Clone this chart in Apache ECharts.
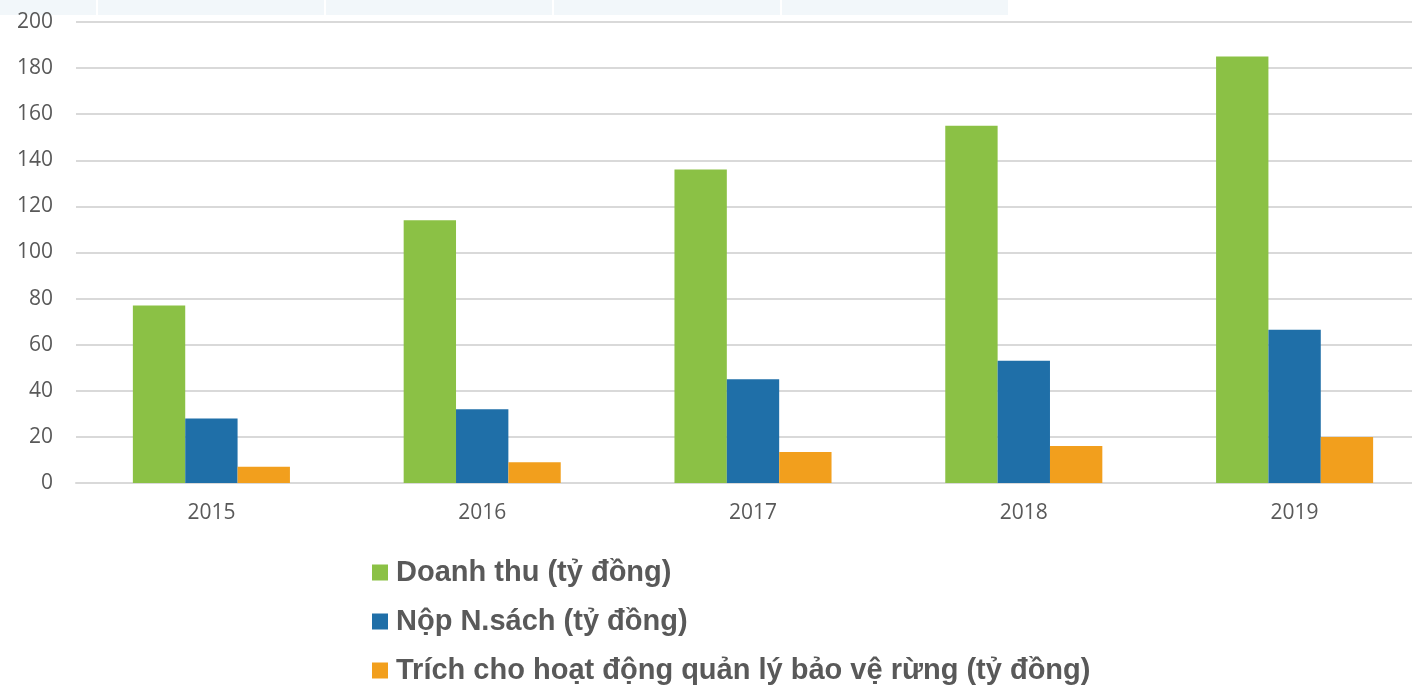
<!DOCTYPE html>
<html><head><meta charset="utf-8">
<script src="https://cdn.jsdelivr.net/npm/echarts@6/dist/echarts.min.js"></script>
<style>html,body{margin:0;padding:0;background:#fff}#c{width:1412px;height:687px}</style>
</head><body><div id="c"></div>
<script>
const categories = ['2015','2016','2017','2018','2019'];
const seriesNames = ['Doanh thu (tỷ đồng)','Nộp N.sách (tỷ đồng)','Trích cho hoạt động quản lý bảo vệ rừng (tỷ đồng)'];
const doanhThu = [77, 114, 136, 155, 185];
const nopNganSach = [28, 32, 45, 53, 66.5];
const trich = [7, 9, 13.5, 16, 20];
const colors = ['#8BC145', '#1F6FA8', '#F29F1D'];

const chart = echarts.init(document.getElementById('c'));
chart.setOption({
  animation: false,
  backgroundColor: '#fff',
  graphic: [
    {type:'rect', left:0, top:0, shape:{width:1008, height:15}, style:{fill:'#F2F7FA'}, z:-1},
    {type:'rect', left:96, top:0, shape:{width:2, height:15}, style:{fill:'#fff'}, z:-1},
    {type:'rect', left:324, top:0, shape:{width:2, height:15}, style:{fill:'#fff'}, z:-1},
    {type:'rect', left:552, top:0, shape:{width:2, height:15}, style:{fill:'#fff'}, z:-1},
    {type:'rect', left:780, top:0, shape:{width:2, height:15}, style:{fill:'#fff'}, z:-1}
  ],
  grid: {left: 76, width: 1354, top: 22, bottom: 204, containLabel: false, outerBoundsMode: 'none'},
  legend: {
    orient: 'vertical', left: 367, top: 553, height: 134, itemGap: 20,
    itemWidth: 16, itemHeight: 16, icon: 'rect',
    textStyle: {fontFamily: 'Liberation Sans, Arial, sans-serif', fontWeight: 'bold', fontSize: 29, color: '#595959', padding:[0,0,0,3]},
    data: seriesNames
  },
  xAxis: {
    type: 'category', data: categories,
    axisLine: {lineStyle: {color: '#D9D9D9', width: 2}},
    axisTick: {show: false},
    axisLabel: {color: '#595959', fontSize: 21, fontFamily: 'Open Sans, sans-serif', margin: 20}
  },
  yAxis: {
    type: 'value', min: 0, max: 200, interval: 20,
    axisLine: {show: false}, axisTick: {show: false},
    splitLine: {lineStyle: {color: '#D9D9D9', width: 2}},
    axisLabel: {color: '#595959', fontSize: 21, fontFamily: 'Open Sans, sans-serif', margin: 23}
  },
  series: [
    {name: seriesNames[0], type: 'bar', data: doanhThu, itemStyle: {color: colors[0]}, barGap: '0%', barCategoryGap: '42%'},
    {name: seriesNames[1], type: 'bar', data: nopNganSach, itemStyle: {color: colors[1]}},
    {name: seriesNames[2], type: 'bar', data: trich, itemStyle: {color: colors[2]}}
  ]
});
</script></body></html>
